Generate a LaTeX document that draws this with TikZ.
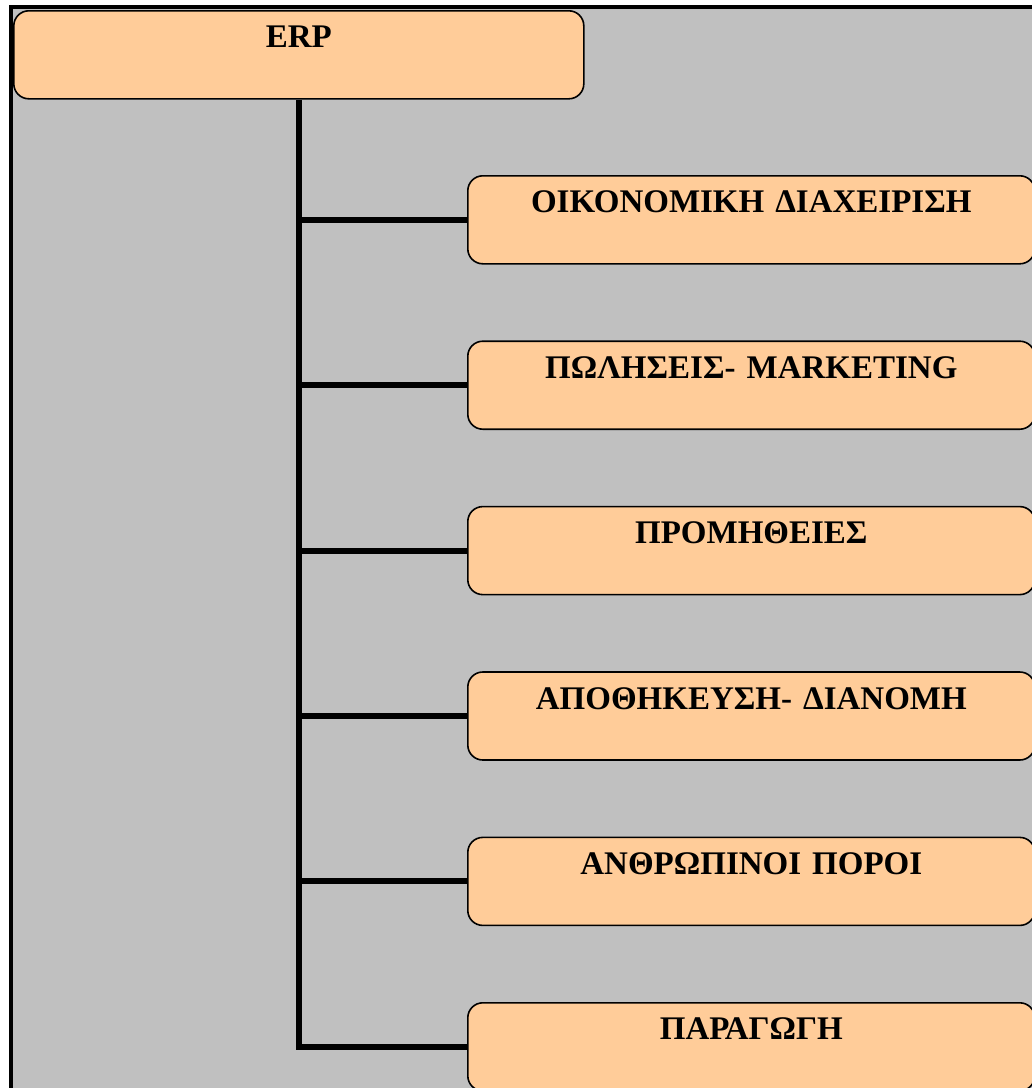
\documentclass[tikz,border=0pt]{standalone}
\usepackage{fontspec}
\setmainfont{Liberation Serif}
\definecolor{bggray}{RGB}{192,192,192}
\definecolor{peach}{RGB}{255,204,153}
\begin{document}
\begin{tikzpicture}[x=1pt,y=-1pt,
  box/.style={draw=black, line width=1.6pt, fill=peach, rounded corners=15pt,
    inner sep=0pt, anchor=north west, align=center,
    font=\fontsize{33}{36}\selectfont\bfseries,
    text height=37pt, text depth=51pt},
  link/.style={line width=6pt, line join=miter, line cap=butt}]
\useasboundingbox (0,0) rectangle (1032,1088);
\clip (0,0) rectangle (1032,1088);
\fill[white] (0,0) rectangle (1032,1088);
\draw[line width=4pt, fill=bggray] (11.3,7) rectangle (1045,1100);
\node[box, text width=570pt] (erp) at (13,10) {ERP};
\node[box, text width=567pt] (c1) at (467,175) {ΟΙΚΟΝΟΜΙΚΗ ΔΙΑΧΕΙΡΙΣΗ};
\node[box, text width=567pt] (c2) at (467,340.4) {ΠΩΛΗΣΕΙΣ- MARKETING};
\node[box, text width=567pt] (c3) at (467,505.8) {ΠΡΟΜΗΘΕΙΕΣ};
\node[box, text width=567pt] (c4) at (467,671.2) {ΑΠΟΘΗΚΕΥΣΗ- ΔΙΑΝΟΜΗ};
\node[box, text width=567pt] (c5) at (467,836.6) {ΑΝΘΡΩΠΙΝΟΙ ΠΟΡΟΙ};
\node[box, text width=567pt] (c6) at (467,1002) {ΠΑΡΑΓΩΓΗ};
\draw[link] (erp.south) |- (c6.west);
\foreach \c in {c1,c2,c3,c4,c5}
  \draw[link] (erp.south |- \c.west) -- (\c.west);
\end{tikzpicture}
\end{document}
